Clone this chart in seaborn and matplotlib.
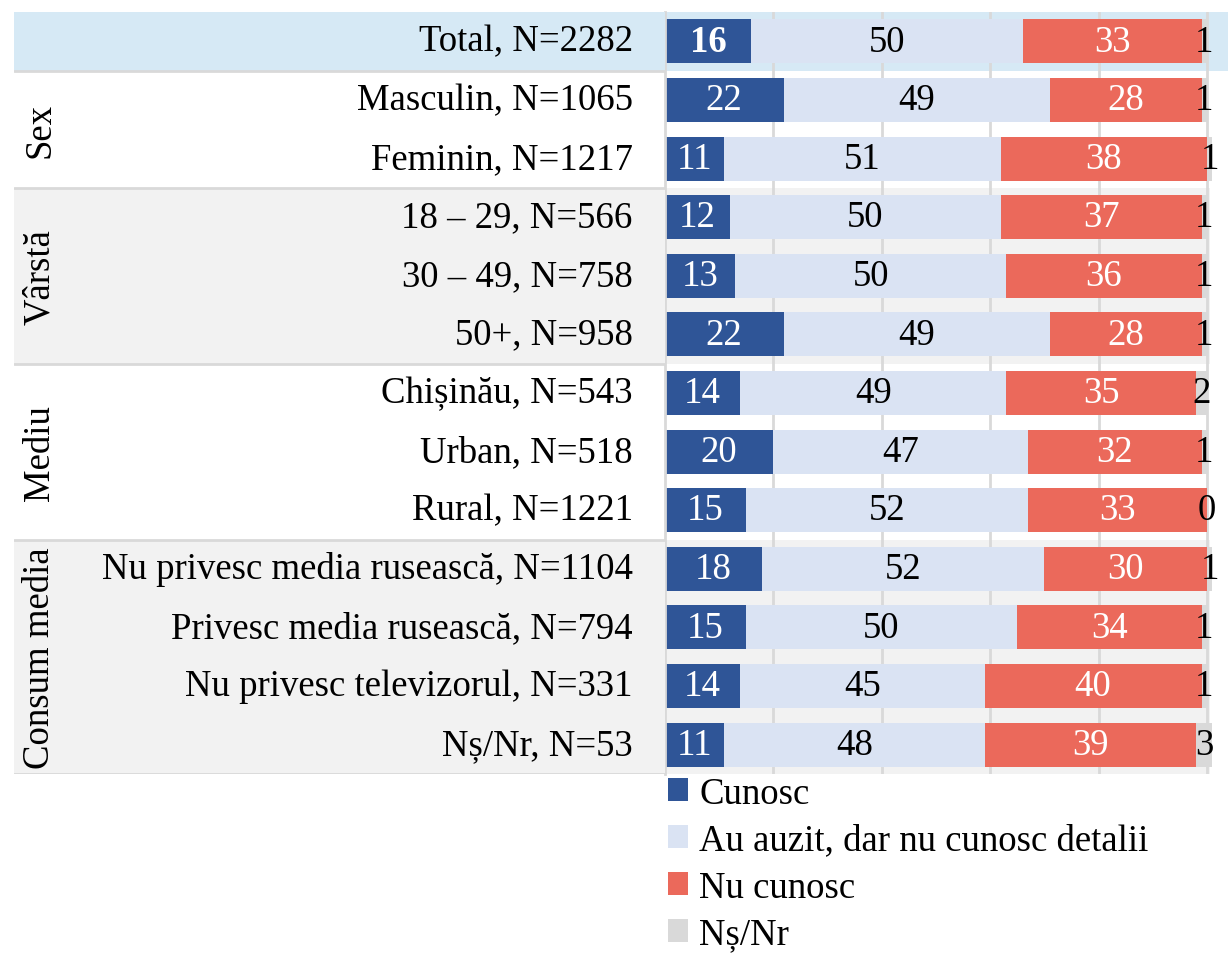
import matplotlib.pyplot as plt
import numpy as np
import pandas as pd
import seaborn as sns
from matplotlib.patches import Patch

# Data
rows = [
    "Total, N=2282",
    "Masculin, N=1065",
    "Feminin, N=1217",
    "18 – 29, N=566",
    "30 – 49, N=758",
    "50+, N=958",
    "Chișinău, N=543",
    "Urban, N=518",
    "Rural, N=1221",
    "Nu privesc media rusească, N=1104",
    "Privesc media rusească, N=794",
    "Nu privesc televizorul, N=331",
    "Nș/Nr, N=53",
]
cunosc = [16, 22, 11, 12, 13, 22, 14, 20, 15, 18, 15, 14, 11]
auzit = [50, 49, 51, 50, 50, 49, 49, 47, 52, 52, 50, 45, 48]
nu_cunosc = [33, 28, 38, 37, 36, 28, 35, 32, 33, 30, 34, 40, 39]
ns_nr = [1, 1, 1, 1, 1, 1, 2, 1, 0, 1, 1, 1, 3]

series_names = ["Cunosc", "Au auzit, dar nu cunosc detalii", "Nu cunosc", "Nș/Nr"]
groups = ["Sex", "Vârstă", "Mediu", "Consum media"]
group_spans = [(1, 2), (3, 5), (6, 8), (9, 12)]

colors = ["#2F5597", "#DAE3F3", "#EB695B", "#D9D9D9"]
text_colors = ["white", "black", "white", "black"]

sns.set_theme(style="white")
plt.rcParams["font.family"] = ["Liberation Serif", "DejaVu Serif"]
plt.rcParams["text.color"] = "black"
FS = 26.5

W, H = 1228, 954
fig = plt.figure(figsize=(W / 100, H / 100), dpi=100)
top, bottom = 13, 775
x0 = 664.5
ax = fig.add_axes([x0 / W, 1 - bottom / H, (W - x0) / W, (bottom - top) / H])
lab = fig.add_axes([14 / W, 1 - bottom / H, (x0 - 14) / W, (bottom - top) / H])
ax.set_facecolor("none")
lab.set_facecolor("none")

df = pd.DataFrame({"row": rows, "c1": cunosc, "c2": auzit, "c3": nu_cunosc, "c4": ns_nr})
vals = df[["c1", "c2", "c3", "c4"]].to_numpy()
cum = vals.cumsum(axis=1)

# background bands
grey_end = (1210 - x0) / (W - x0)
for a in (ax, lab):
    a.axhspan(-0.5, 0.5, color="#D6E9F5", zorder=0, lw=0)
    for k, (r0, r1) in enumerate(group_spans):
        if k % 2 == 1:
            a.axhspan(r0 - 0.5, r1 + 0.5, xmax=grey_end if a is ax else 1,
                      color="#F2F2F2", zorder=0, lw=0)

# stacked bars: draw cumulative totals back to front
for j in range(3, -1, -1):
    sns.barplot(x=cum[:, j], y=df["row"], order=rows, orient="h", color=colors[j],
                saturation=1, width=0.75, linewidth=0, ax=ax, zorder=2)

for i in range(len(rows)):
    left = 0
    for j in range(4):
        v = vals[i, j]
        ax.text(left + v / 2, i, str(v), ha="center", va="center", fontsize=FS,
                color=text_colors[j], zorder=3,
                fontweight="bold" if (i == 0 and j == 0) else "normal")
        left += v

ax.set_xlim(0, (W - x0) / 5.425)
ax.set_ylim(len(rows) - 0.5, -0.5)
ax.set_xticks([20, 40, 60, 80, 100])
ax.set_xticklabels([])
ax.set_yticks([])
ax.tick_params(length=0)
ax.set_xlabel("")
ax.set_ylabel("")
ax.grid(axis="x", color="#D9D9D9", lw=2)
ax.set_axisbelow(True)
for s in ["top", "right", "bottom"]:
    ax.spines[s].set_visible(False)
ax.spines["left"].set_color("#D9D9D9")
ax.spines["left"].set_linewidth(2)

# label panel
lab.set_xlim(0, 1)
lab.set_ylim(len(rows) - 0.5, -0.5)
lab.axis("off")
for i, r in enumerate(rows):
    lab.text(0.951, i, r, ha="right", va="center", fontsize=FS)
for g, (r0, r1) in zip(groups, group_spans):
    lab.text(0.04, (r0 + r1) / 2, g, rotation=90, ha="center", va="center", fontsize=FS)
for yb in [0.5, 2.5, 5.5, 8.5, 12.5]:
    lab.axhline(yb, color="#D9D9D9", lw=2)

handles = [Patch(facecolor=c, edgecolor="none") for c in colors]
fig.legend(handles, series_names, loc="upper left", bbox_to_anchor=(668 / W, 1 - 777 / H),
           frameon=False, fontsize=FS, handlelength=0.55, handleheight=0.55,
           handletextpad=0.3, labelspacing=0.34, borderaxespad=0, borderpad=0)

fig.savefig("out.png", dpi=100)
